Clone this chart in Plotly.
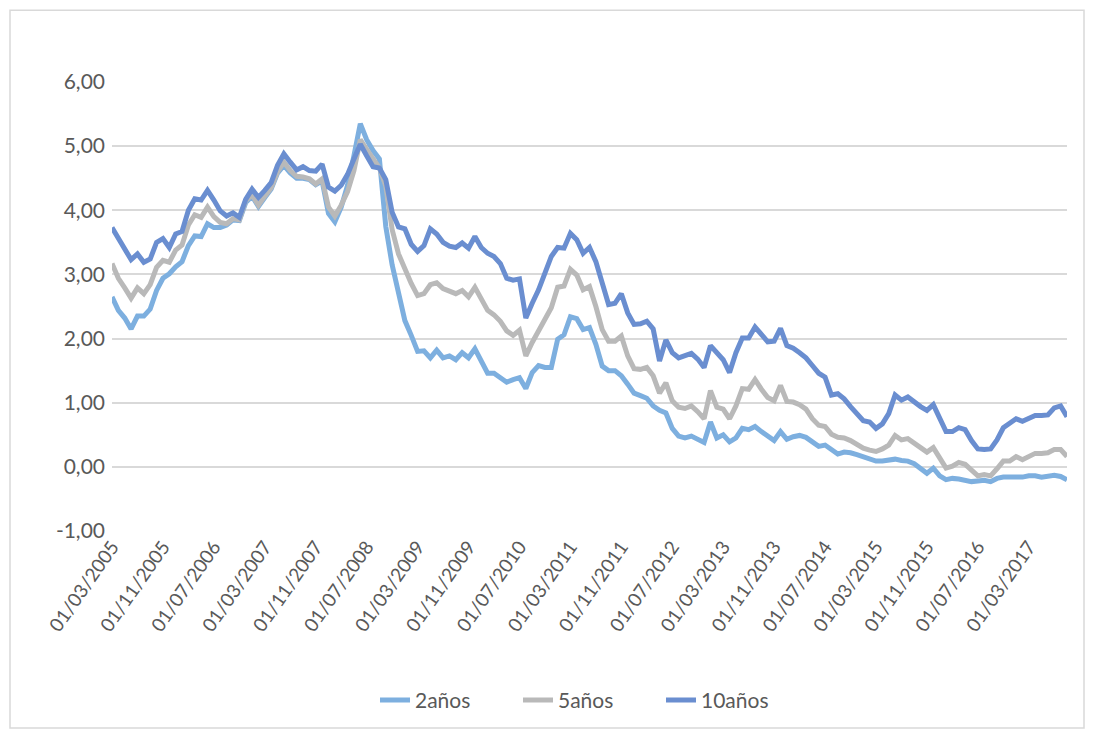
import plotly.graph_objects as go

# Monthly categories: 01/03/2005 ... 01/09/2017
fechas = []
y, m = 2005, 3
while (y, m) <= (2017, 9):
    fechas.append(f"01/{m:02d}/{y}")
    m += 1
    if m > 12:
        m = 1
        y += 1

tramo_2 = [
    2.65, 2.44, 2.32, 2.15, 2.35, 2.35, 2.46, 2.75, 2.94, 3.01,
    3.12, 3.20, 3.45, 3.60, 3.59, 3.79, 3.73, 3.73, 3.77, 3.85,
    3.84, 4.12, 4.22, 4.06, 4.20, 4.33, 4.58, 4.70, 4.58, 4.50,
    4.50, 4.48, 4.40, 4.46, 3.95, 3.82, 4.05, 4.39, 4.85, 5.35,
    5.10, 4.93, 4.80, 3.75, 3.15, 2.69, 2.28, 2.05, 1.80, 1.81,
    1.70, 1.82, 1.70, 1.73, 1.67, 1.78, 1.70, 1.84, 1.63, 1.46,
    1.46, 1.39, 1.32, 1.36, 1.39, 1.22, 1.47, 1.58, 1.55, 1.55,
    1.99, 2.06, 2.34, 2.31, 2.14, 2.17, 1.91, 1.57, 1.50, 1.50,
    1.42, 1.29, 1.15, 1.11, 1.07, 0.95, 0.88, 0.84, 0.60, 0.48,
    0.45, 0.48, 0.43, 0.38, 0.70, 0.45, 0.50, 0.39, 0.45, 0.60,
    0.58, 0.63, 0.55, 0.49, 0.41, 0.55, 0.43, 0.47, 0.49, 0.46,
    0.40, 0.32, 0.34, 0.27, 0.20, 0.23, 0.22, 0.19, 0.16, 0.11,
    0.09, 0.09, 0.10, 0.12, 0.10, 0.09, 0.05, -0.02, -0.10, -0.02,
    -0.14, -0.20, -0.18, -0.19, -0.21, -0.23, -0.22, -0.21, -0.23, -0.18,
    -0.16, -0.16, -0.16, -0.16, -0.14, -0.14, -0.16, -0.15, -0.13, -0.15,
    -0.20,
]

tramo_5 = [
    3.17, 2.94, 2.79, 2.63, 2.79, 2.70, 2.84, 3.11, 3.22, 3.19,
    3.38, 3.46, 3.77, 3.93, 3.89, 4.05, 3.90, 3.81, 3.79, 3.87,
    3.85, 4.15, 4.24, 4.08, 4.22, 4.35, 4.60, 4.75, 4.62, 4.53,
    4.52, 4.49, 4.41, 4.49, 4.05, 3.91, 4.08, 4.29, 4.62, 5.10,
    4.95, 4.80, 4.66, 4.38, 3.70, 3.32, 3.08, 2.86, 2.67, 2.70,
    2.84, 2.87, 2.78, 2.75, 2.70, 2.75, 2.65, 2.80, 2.61, 2.44,
    2.37, 2.27, 2.12, 2.05, 2.13, 1.73, 1.94, 2.12, 2.27, 2.48,
    2.80, 2.82, 3.08, 2.99, 2.76, 2.81, 2.50, 2.14, 1.96, 1.96,
    2.04, 1.73, 1.53, 1.52, 1.55, 1.42, 1.15, 1.31, 1.03, 0.93,
    0.91, 0.95, 0.86, 0.75, 1.19, 0.93, 0.90, 0.75, 0.95, 1.22,
    1.21, 1.36, 1.21, 1.08, 1.03, 1.27, 1.02, 1.01, 0.97, 0.90,
    0.75, 0.65, 0.63, 0.51, 0.46, 0.45, 0.41, 0.35, 0.29, 0.26,
    0.24, 0.28, 0.34, 0.49, 0.42, 0.44, 0.38, 0.30, 0.23, 0.30,
    0.14, -0.02, 0.01, 0.07, 0.04, -0.06, -0.14, -0.12, -0.14, -0.03,
    0.09, 0.09, 0.16, 0.11, 0.16, 0.21, 0.21, 0.22, 0.27, 0.27,
    0.16,
]

tramo_10 = [
    3.73, 3.56, 3.39, 3.23, 3.32, 3.19, 3.24, 3.50, 3.56, 3.42,
    3.63, 3.67, 4.00, 4.18, 4.16, 4.31, 4.16, 3.99, 3.91, 3.96,
    3.89, 4.17, 4.33, 4.20, 4.31, 4.43, 4.70, 4.88, 4.75, 4.63,
    4.68, 4.62, 4.61, 4.72, 4.36, 4.30, 4.39, 4.56, 4.80, 5.03,
    4.85, 4.68, 4.66, 4.48, 3.97, 3.74, 3.71, 3.47, 3.36, 3.45,
    3.71, 3.63, 3.50, 3.44, 3.42, 3.49, 3.41, 3.59, 3.42, 3.33,
    3.28, 3.17, 2.94, 2.91, 2.93, 2.32, 2.55, 2.76, 3.02, 3.28,
    3.42, 3.41, 3.64, 3.54, 3.33, 3.42, 3.20, 2.86, 2.53, 2.55,
    2.70, 2.40, 2.22, 2.23, 2.27, 2.15, 1.65, 1.98, 1.78, 1.70,
    1.73, 1.77, 1.68, 1.55, 1.89, 1.77, 1.67, 1.47, 1.78, 2.01,
    2.01, 2.18, 2.06, 1.95, 1.96, 2.16, 1.89, 1.85, 1.78, 1.70,
    1.58, 1.46, 1.40, 1.12, 1.14, 1.06, 0.94, 0.83, 0.72, 0.70,
    0.60, 0.67, 0.83, 1.12, 1.04, 1.09, 1.01, 0.94, 0.88, 0.97,
    0.76, 0.55, 0.55, 0.61, 0.58, 0.41, 0.28, 0.27, 0.28, 0.42,
    0.61, 0.67, 0.75, 0.71, 0.75, 0.80, 0.80, 0.81, 0.92, 0.95,
    0.78,
]

series = [
    ("2años", tramo_2, "#7DAFDF"),
    ("5años", tramo_5, "#B9B9B9"),
    ("10años", tramo_10, "#6A8ED0"),
]

etiquetas = fechas[::8]
y_ticks = [-1, 0, 1, 2, 3, 4, 5, 6]
y_labels = ["-1,00", "0,00", "1,00", "2,00", "3,00", "4,00", "5,00", "6,00"]

FONT = "Lato, 'Open Sans', sans-serif"
TXT = "#595959"
GRID = "#D9D9D9"

fig = go.Figure()
for name, vals, col in series:
    fig.add_trace(go.Scatter(
        x=fechas, y=vals, name=name, mode="lines",
        line=dict(color=col, width=5),
        hoverinfo="x+y+name",
    ))

n = len(fechas)
PW, PH = 955, 451
fig.update_layout(
    width=1093, height=733,
    paper_bgcolor="white", plot_bgcolor="white",
    margin=dict(l=112, r=26, t=82, b=200, pad=0),
    separators=",.",
    font=dict(family=FONT, size=21, color=TXT),
    showlegend=True,
    legend=dict(
        orientation="h", x=(375 - 112) / PW, xanchor="left",
        y=-(703 - 533) / PH, yanchor="middle",
        font=dict(family=FONT, size=21, color=TXT),
        entrywidth=98, entrywidthmode="pixels",
        tracegroupgap=0, bgcolor="rgba(0,0,0,0)",
    ),
    xaxis=dict(
        type="category", range=[0, n - 1],
        tickvals=etiquetas, ticktext=etiquetas,
        tickangle=-55, showgrid=False, showline=False, zeroline=False,
        ticks="", tickfont=dict(family=FONT, size=19, color=TXT),
    ),
    xaxis2=dict(
        type="linear", range=[0, n - 1], overlaying="x", anchor="free",
        position=1 / 7, side="bottom",
        tickvals=list(range(0, n, 8)), showticklabels=False,
        ticks="outside", ticklen=8, tickwidth=1.5, tickcolor=GRID,
        showline=True, linecolor=GRID, linewidth=1.5,
        showgrid=False, zeroline=False,
    ),
    yaxis=dict(
        range=[-1, 6], tickvals=y_ticks, ticktext=y_labels,
        showgrid=True, gridcolor=GRID, gridwidth=1.5,
        zeroline=False, showline=False, ticks="",
        tickfont=dict(family=FONT, size=21, color=TXT),
        ticklabelstandoff=6,
    ),
    shapes=[dict(
        type="rect", xref="paper", yref="paper",
        x0=-102 / PW, x1=(1093 - 112 - 9) / PW,
        y0=-(733 - 533 - 2) / PH, y1=1 + 72 / PH,
        line=dict(color=GRID, width=1.5), fillcolor="rgba(0,0,0,0)",
        layer="below",
    )],
)

fig.write_html("out.html")
